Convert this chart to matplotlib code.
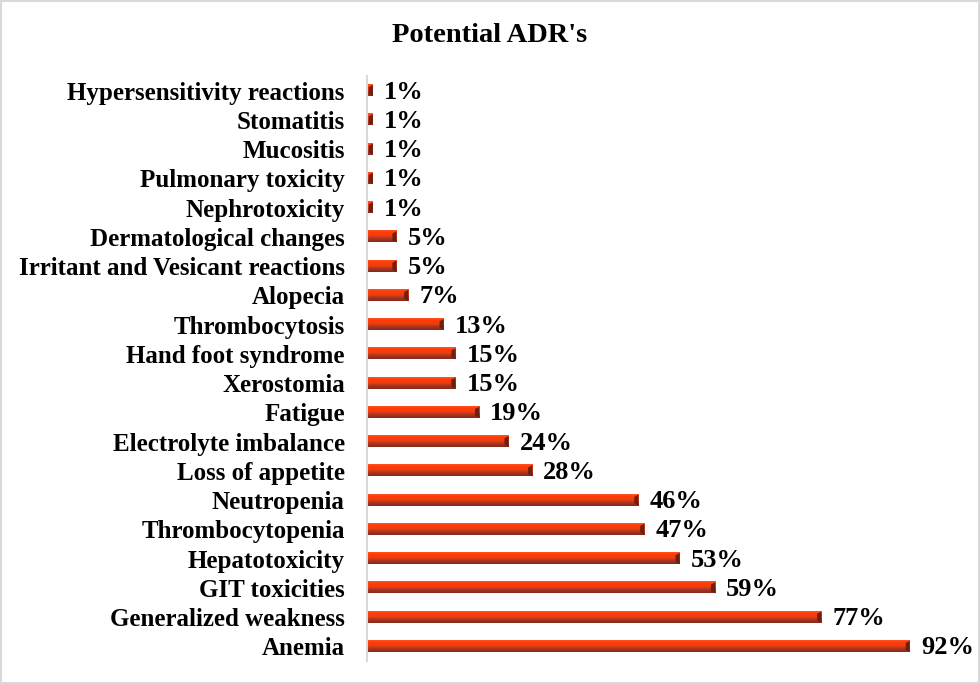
import numpy as np
import matplotlib.pyplot as plt
from matplotlib.colors import LinearSegmentedColormap
from matplotlib.patches import Rectangle, Polygon

plt.rcParams['font.family'] = ['Liberation Serif', 'DejaVu Serif']

# data, bottom row first
categories = ["Anemia", "Generalized weakness", "GIT toxicities", "Hepatotoxicity",
              "Thrombocytopenia", "Neutropenia", "Loss of appetite",
              "Electrolyte imbalance", "Fatigue", "Xerostomia", "Hand foot syndrome",
              "Thrombocytosis", "Alopecia", "Irritant and Vesicant reactions",
              "Dermatological changes", "Nephrotoxicity", "Pulmonary toxicity",
              "Mucositis", "Stomatitis", "Hypersensitivity reactions"]
values = [92, 77, 59, 53, 47, 46, 28, 24, 19, 15, 15, 13, 7, 5, 5, 1, 1, 1, 1, 1]
value_labels = [f"{v}%" for v in values]

fig = plt.figure(figsize=(9.8, 6.84), dpi=100)
ax = fig.add_axes([367 / 980, 23 / 684, 590 / 980, 585 / 684])

# vertical shading of the bevelled bars (top -> bottom)
shade = LinearSegmentedColormap.from_list(
    "bar", ["#FF5424", "#FF3C0A", "#FF3A08", "#E8400F", "#B23820", "#9A3020", "#86291A"])
grad = np.linspace(0, 1, 64).reshape(-1, 1)

pos = list(range(len(categories)))
h = 0.38
bars = ax.barh(pos, values, height=h, color="none", edgecolor="none", zorder=2)
for b, v in zip(bars, values):
    y0 = b.get_y()
    ax.imshow(grad, cmap=shade, aspect="auto", interpolation="bilinear",
              extent=(0, v, y0, y0 + h), zorder=2)
    cap = 0.7
    ax.add_patch(Polygon([(v - cap, y0 + h * 0.2), (v, y0), (v, y0 + h),
                          (v - cap, y0 + h * 0.8)], closed=True,
                         color="#6E2010", linewidth=0, zorder=3))

for p, v, lab in zip(pos, values, value_labels):
    ax.annotate(lab, (v, p), xytext=(8, -1), textcoords="offset points",
                va="center", ha="left", fontsize=19, fontweight="bold")

ax.set_xlim(0, 100)
ax.set_ylim(-0.5, len(categories) - 0.5)
ax.set_yticks(pos)
ax.set_yticklabels(categories, fontsize=18, fontweight="bold")
ax.tick_params(axis="y", length=0, pad=16)
ax.set_xticks([])
for s in ["top", "right", "bottom"]:
    ax.spines[s].set_visible(False)
ax.spines["left"].set_color("#D9D9D9")
ax.spines["left"].set_linewidth(1.5)

fig.text(0.5, 1 - 35 / 684, "Potential ADR's", ha="center", va="center",
         fontsize=20.5, fontweight="bold")

# light grey border around the chart
fig.patches.append(Rectangle((0.001, 0.001), 0.998, 0.998, transform=fig.transFigure,
                             fill=False, edgecolor="#D9D9D9", linewidth=1.5))

fig.savefig("out.png", dpi=100)
